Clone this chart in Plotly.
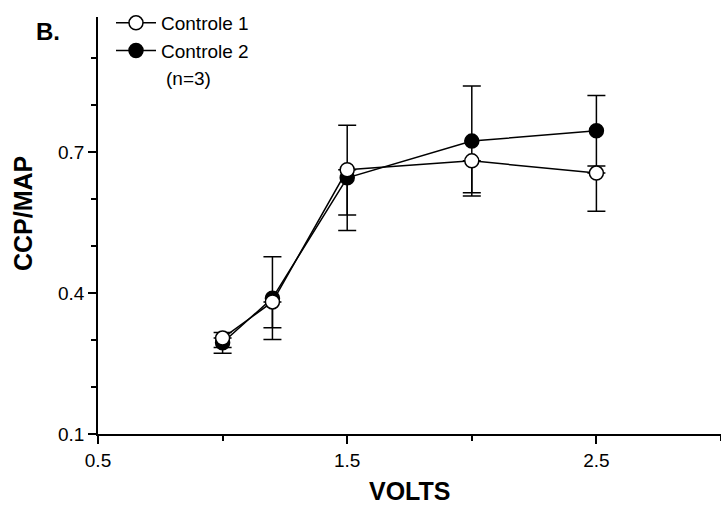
import plotly.graph_objects as go

volts = [1.0, 1.2, 1.5, 2.0, 2.5]
controle1 = [0.304, 0.381, 0.662, 0.681, 0.655]
controle1_err_minus = [0.02, 0.055, 0.096, 0.068, 0.081]
controle1_err_plus = [0.0, 0.0, 0.0, 0.0, 0.0]
controle2 = [0.294, 0.389, 0.645, 0.723, 0.745]
controle2_err = [0.022, 0.088, 0.112, 0.117, 0.075]

y_major = [0.1, 0.4, 0.7]
x_major = [0.5, 1.5, 2.5]

FONT = "Liberation Sans, Arial, sans-serif"
W, H = 721, 513
L, R, T, B = 98, 0, 17, 79
PW, PH = W - L - R, H - T - B


def px(x):
    return (x - L) / PW


def py(y):
    return (H - B - y) / PH


fig = go.Figure()
fig.add_trace(go.Scatter(
    x=volts, y=controle2, name="Controle 2", mode="lines+markers",
    line=dict(color="black", width=1.5),
    marker=dict(symbol="circle", size=14, color="black", line=dict(color="black", width=1.5)),
    error_y=dict(type="data", array=controle2_err, symmetric=True, color="black", thickness=1.5, width=9),
    legendrank=2,
))
fig.add_trace(go.Scatter(
    x=volts, y=controle1, name="Controle 1", mode="lines+markers",
    line=dict(color="black", width=1.5),
    marker=dict(symbol="circle", size=14, color="white", line=dict(color="black", width=1.5)),
    error_y=dict(type="data", array=controle1_err_plus, arrayminus=controle1_err_minus,
                 symmetric=False, color="black", thickness=1.5, width=9),
    legendrank=1,
))

fig.update_layout(
    width=W, height=H,
    margin=dict(l=L, r=R, t=T, b=B, pad=0, autoexpand=False),
    paper_bgcolor="white", plot_bgcolor="white",
    font=dict(family=FONT, size=19, color="black"),
    showlegend=True,
    legend=dict(
        xref="paper", yref="paper",
        x=px(111), y=py(4), xanchor="left", yanchor="top",
        bgcolor="rgba(0,0,0,0)", borderwidth=0,
        font=dict(family=FONT, size=19, color="black"),
        tracegroupgap=0, itemwidth=40,
    ),
    xaxis=dict(
        range=[0.5, 3.0], showgrid=False, zeroline=False,
        showline=True, linecolor="black", linewidth=1.5,
        ticks="outside", ticklen=8, tickwidth=1.5, tickcolor="black",
        tickmode="array", tickvals=x_major, ticktext=[str(v) for v in x_major],
        tickfont=dict(family=FONT, size=19, color="black"),
        minor=dict(dtick=0.5, tick0=0.5, ticks="outside", ticklen=5, tickwidth=1.5, tickcolor="black"),
    ),
    yaxis=dict(
        range=[0.1, 0.987], showgrid=False, zeroline=False,
        showline=True, linecolor="black", linewidth=1.5,
        ticks="outside", ticklen=8, tickwidth=1.5, tickcolor="black",
        tickmode="array", tickvals=y_major, ticktext=[f"{v:.1f}" for v in y_major],
        tickfont=dict(family=FONT, size=19, color="black"),
        minor=dict(dtick=0.1, tick0=0.1, ticks="outside", ticklen=5, tickwidth=1.5, tickcolor="black"),
    ),
    annotations=[
        dict(text="<b>VOLTS</b>", xref="paper", yref="paper", x=px(409), y=py(491),
             xanchor="center", yanchor="middle", showarrow=False, font=dict(family=FONT, size=25)),
        dict(text="<b>CCP/MAP</b>", xref="paper", yref="paper", x=px(23), y=py(214),
             xanchor="center", yanchor="middle", textangle=-90, showarrow=False, font=dict(family=FONT, size=25)),
        dict(text="<b>B.</b>", xref="paper", yref="paper", x=px(34), y=py(31),
             xanchor="left", yanchor="middle", showarrow=False, font=dict(family=FONT, size=24)),
        dict(text="(n=3)", xref="paper", yref="paper", x=px(164), y=py(78),
             xanchor="left", yanchor="middle", showarrow=False, font=dict(family=FONT, size=19)),
    ],
)

fig.write_html("out.html")
